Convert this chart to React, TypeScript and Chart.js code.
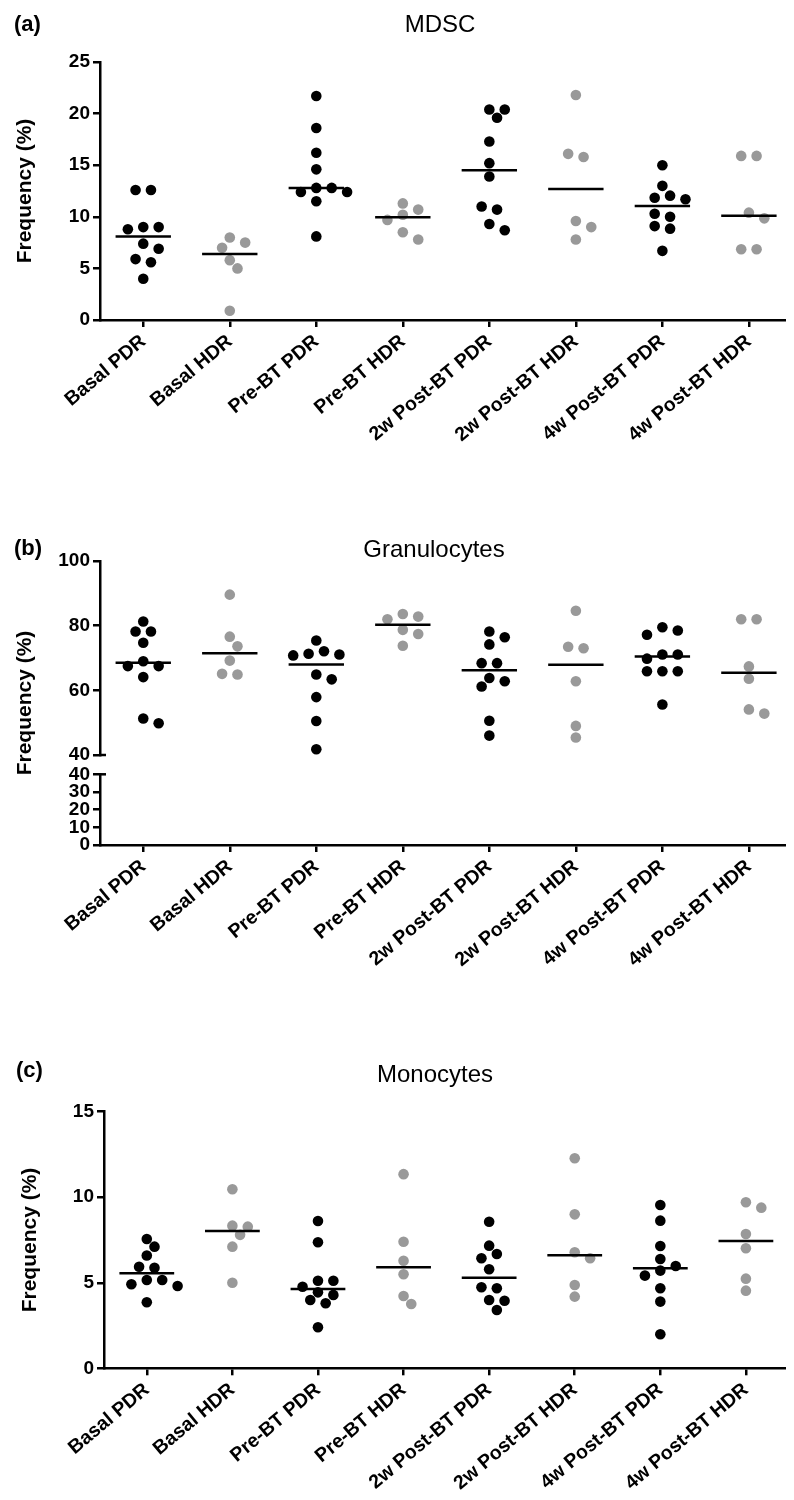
import React, { useEffect, useRef } from 'react';
import { Chart, registerables } from 'chart.js';

Chart.register(...registerables);

// ---------------- data ----------------
const categories = [
  'Basal PDR',
  'Basal HDR',
  'Pre-BT PDR',
  'Pre-BT HDR',
  '2w Post-BT PDR',
  '2w Post-BT HDR',
  '4w Post-BT PDR',
  '4w Post-BT HDR',
];

const yAxisTitle = 'Frequency (%)';

// (a) MDSC
const mdscValues: number[][] = [
  [12.6, 12.6, 9.0, 9.0, 8.8, 7.4, 6.9, 5.9, 5.6, 4.0],
  [8.0, 7.5, 7.0, 5.8, 5.0, 0.9],
  [21.7, 18.6, 16.2, 14.6, 12.8, 12.8, 12.4, 12.4, 11.5, 8.1],
  [11.3, 10.7, 10.2, 9.7, 8.5, 7.8],
  [20.4, 20.4, 19.6, 17.3, 15.2, 13.9, 11.0, 10.7, 9.3, 8.7],
  [21.8, 16.1, 15.8, 9.6, 9.0, 7.8],
  [15.0, 13.0, 12.05, 11.85, 11.7, 10.3, 10.0, 9.1, 8.85, 6.7],
  [15.9, 15.9, 10.4, 9.85, 6.85, 6.85],
];
const mdscMedians = [8.1, 6.4, 12.8, 9.95, 14.5, 12.7, 11.05, 10.1];
const mdscYTicks = [0, 5, 10, 15, 20, 25];

// (b) Granulocytes
const granValues: number[][] = [
  [81.3, 78.2, 78.2, 74.7, 69.0, 67.5, 67.5, 64.1, 51.3, 49.8],
  [89.6, 76.6, 73.6, 69.2, 65.1, 64.9],
  [75.4, 72.1, 71.3, 71.1, 70.8, 64.9, 63.4, 57.9, 50.5, 41.8],
  [83.6, 82.8, 82.0, 78.7, 77.4, 73.8],
  [78.2, 76.4, 74.2, 68.4, 68.4, 63.8, 62.8, 61.2, 50.6, 46.0],
  [84.6, 73.5, 73.0, 62.8, 49.0, 45.4],
  [79.5, 78.5, 77.2, 71.1, 71.1, 69.8, 65.9, 65.9, 65.9, 55.6],
  [82.0, 82.0, 67.4, 63.6, 54.1, 52.8],
];
const granMedians = [68.5, 71.5, 68.0, 80.3, 66.2, 67.9, 70.5, 65.4];
const granUpperTicks = [40, 60, 80, 100];
const granLowerTicks = [0, 10, 20, 30, 40];

// (c) Monocytes
const monoValues: number[][] = [
  [7.56, 7.11, 6.59, 5.94, 5.88, 5.16, 5.16, 4.91, 4.81, 3.86],
  [10.47, 8.34, 8.28, 7.8, 7.11, 5.0],
  [8.61, 7.37, 5.12, 5.12, 4.77, 4.44, 4.29, 3.99, 3.8, 2.4],
  [11.35, 7.4, 6.29, 5.5, 4.23, 3.76],
  [8.57, 7.17, 6.68, 6.43, 5.79, 4.74, 4.68, 3.99, 3.95, 3.41],
  [12.28, 9.0, 6.78, 6.43, 4.87, 4.19],
  [9.55, 8.63, 7.15, 6.39, 5.98, 5.71, 5.42, 4.68, 3.9, 1.99],
  [9.71, 9.39, 7.85, 7.02, 5.24, 4.54],
];
const monoMedians = [5.56, 8.03, 4.64, 5.9, 5.3, 6.61, 5.85, 7.44];
const monoYTicks = [0, 5, 10, 15];

// ---------------- styles ----------------
const FONT = "'Liberation Sans', Arial, Helvetica, sans-serif";
const BLACK = '#000000';
const GRAY = '#999999';
const groupColor = (i: number) => (i % 2 === 0 ? BLACK : GRAY);
const MEDIAN_HALF = 0.32; // half width of median bar, in category units
const POINT_R = 5.3;
const SWARM_STEP = 7.7; // px
const SWARM_MIN_DIST = 10.8; // px

type Segment = {
  id: string;
  min?: number;
  max?: number;
  ticks?: number[];
  size: number; // relative stack weight
  gap?: boolean;
};

type PanelCfg = {
  key: string;
  letter: string;
  title: string;
  values: number[][];
  medians: number[];
  segments: Segment[];
  top: number;
  height: number;
  chartTop: number;
  xAxisHeight: number;
  titleWidth: number;
  titlePad: number;
  yAxisWidth: number;
  xMax: number;
  letterX: number;
  letterY: number;
  titleX: number;
  titleY: number;
  breaks?: { scaleId: string; value: number }[];
};

const panels: PanelCfg[] = [
  {
    key: 'a',
    letter: '(a)',
    title: 'MDSC',
    values: mdscValues,
    medians: mdscMedians,
    segments: [{ id: 'y', min: 0, max: 25, ticks: mdscYTicks, size: 1 }],
    top: 0,
    height: 490,
    chartTop: 62,
    xAxisHeight: 170,
    titleWidth: 30,
    titlePad: 12.4,
    yAxisWidth: 70,
    xMax: 7.46,
    letterX: 14,
    letterY: 30.5,
    titleX: 440,
    titleY: 31.7,
  },
  {
    key: 'b',
    letter: '(b)',
    title: 'Granulocytes',
    values: granValues,
    medians: granMedians,
    segments: [
      { id: 'y', min: 40, max: 100, ticks: granUpperTicks, size: 194 },
      { id: 'yGap', size: 19.3, gap: true },
      { id: 'y2', min: 0, max: 40, ticks: granLowerTicks, size: 70.7 },
    ],
    top: 490,
    height: 520,
    chartTop: 71,
    xAxisHeight: 165,
    titleWidth: 30,
    titlePad: 12.4,
    yAxisWidth: 70,
    xMax: 7.46,
    letterX: 14,
    letterY: 65.4,
    titleX: 434,
    titleY: 66.7,
    breaks: [
      { scaleId: 'y', value: 40 },
      { scaleId: 'y2', value: 40 },
    ],
  },
  {
    key: 'c',
    letter: '(c)',
    title: 'Monocytes',
    values: monoValues,
    medians: monoMedians,
    segments: [{ id: 'y', min: 0, max: 15, ticks: monoYTicks, size: 1 }],
    top: 1010,
    height: 490,
    chartTop: 101.7,
    xAxisHeight: 131.7,
    titleWidth: 34,
    titlePad: 17.4,
    yAxisWidth: 70,
    xMax: 7.5,
    letterX: 16,
    letterY: 67,
    titleX: 435,
    titleY: 71.7,
  },
];

// ---------------- helpers ----------------
function swarm(pys: number[], step: number, minDist: number): number[] {
  const order = pys.map((_, i) => i).sort((a, b) => pys[a] - pys[b]);
  const out = new Array(pys.length).fill(0);
  const placed: number[] = [];
  const ok = (x: number, y: number, skip: number[]) =>
    placed.every((j) => skip.includes(j) || Math.hypot(out[j] - x, pys[j] - y) >= minDist);
  for (const i of order) {
    for (let k = 0; k < 60; k++) {
      const cand = k === 0 ? 0 : (k % 2 === 1 ? 1 : -1) * Math.ceil(k / 2) * step;
      if (ok(cand, pys[i], [])) {
        out[i] = cand;
        placed.push(i);
        break;
      }
    }
  }
  // make lone pairs symmetric around the centre
  for (const i of placed) {
    if (out[i] !== 0) continue;
    const mates = placed.filter((j) => j !== i && Math.abs(pys[j] - pys[i]) < 4);
    if (mates.length !== 1) continue;
    const j = mates[0];
    if (Math.abs(Math.abs(out[j]) - 2 * step) > 0.01) continue;
    const s = Math.sign(out[j]);
    const oi = out[i];
    const oj = out[j];
    out[i] = -s * step;
    out[j] = s * step;
    const good = ok(out[i], pys[i], [i, j]) && ok(out[j], pys[j], [i, j]);
    if (!good) {
      out[i] = oi;
      out[j] = oj;
    }
  }
  return out;
}

const panelTextPlugin = {
  id: 'panelText',
  afterDraw(chart: any, _args: any, opts: any) {
    const ctx = chart.ctx as CanvasRenderingContext2D;
    ctx.save();
    ctx.fillStyle = BLACK;
    ctx.textBaseline = 'alphabetic';
    ctx.font = `bold 22px ${FONT}`;
    ctx.textAlign = 'left';
    ctx.fillText(opts.letter, opts.letterX, opts.letterY);
    ctx.font = `24px ${FONT}`;
    ctx.textAlign = 'center';
    ctx.fillText(opts.title, opts.titleX, opts.titleY);
    if (opts.breaks) {
      ctx.strokeStyle = BLACK;
      ctx.lineWidth = 2.5;
      const left = chart.chartArea.left;
      for (const b of opts.breaks) {
        const sc = chart.scales[b.scaleId];
        if (!sc) continue;
        const y = sc.getPixelForValue(b.value);
        ctx.beginPath();
        ctx.moveTo(left - 1, y);
        ctx.lineTo(left + 6, y);
        ctx.stroke();
      }
    }
    ctx.restore();
  },
};

function buildConfig(p: PanelCfg): any {
  const yMain = p.segments[0].id;
  const stacked = p.segments.length > 1;
  const yTickFont = { family: FONT, size: 19, weight: 'bold' as const };
  const xTickFont = { family: FONT, size: 19.5, weight: 'bold' as const };
  const datasets: any[] = [];
  p.medians.forEach((m, i) => {
    datasets.push({
      label: 'Median ' + categories[i],
      data: [
        { x: i - MEDIAN_HALF, y: m },
        { x: i + MEDIAN_HALF, y: m },
      ],
      showLine: true,
      borderColor: BLACK,
      borderWidth: 2.5,
      pointRadius: 0,
      xAxisID: 'x',
      yAxisID: yMain,
      order: 0,
      clip: false,
    });
  });
  p.values.forEach((vals, i) => {
    datasets.push({
      label: categories[i],
      data: vals.map((v) => ({ x: i, y: v })),
      backgroundColor: groupColor(i),
      borderColor: groupColor(i),
      borderWidth: 0,
      pointRadius: POINT_R,
      pointHoverRadius: POINT_R,
      xAxisID: 'x',
      yAxisID: yMain,
      order: 1,
      clip: false,
    });
  });

  const scales: any = {
    x: {
      type: 'linear',
      position: 'bottom',
      min: -0.5,
      max: p.xMax,
      afterBuildTicks: (sc: any) => {
        sc.ticks = categories.map((_, i) => ({ value: i }));
      },
      afterFit: (sc: any) => {
        sc.height = p.xAxisHeight;
      },
      ticks: {
        autoSkip: false,
        maxRotation: 40,
        minRotation: 40,
        color: BLACK,
        font: xTickFont,
        padding: 3,
        callback: (_v: any, i: number) => categories[i],
      },
      grid: { drawOnChartArea: false, drawTicks: true, tickLength: 7, lineWidth: 2.5, color: BLACK },
      border: { display: true, color: BLACK, width: 2.5 },
    },
    yTitle: {
      type: 'linear',
      position: 'left',
      weight: 10,
      display: true,
      ticks: { display: false },
      grid: { display: false },
      border: { display: false },
      title: {
        display: true,
        text: yAxisTitle,
        color: BLACK,
        font: { family: FONT, size: 21, weight: 'bold' },
        padding: { top: p.titlePad, bottom: 0 },
      },
      afterFit: (sc: any) => {
        sc.width = p.titleWidth;
      },
    },
  };

  const n = p.segments.length;
  p.segments.forEach((s, k) => {
    const common: any = {
      type: 'linear',
      position: 'left',
      weight: n - k,
    };
    if (stacked) {
      common.stack = 'ybreak';
      common.stackWeight = s.size;
    }
    if (s.gap) {
      scales[s.id] = {
        ...common,
        display: false,
        afterFit: (sc: any) => {
          sc.width = 0;
        },
      };
      return;
    }
    scales[s.id] = {
      ...common,
      min: s.min,
      max: s.max,
      afterBuildTicks: (sc: any) => {
        sc.ticks = (s.ticks || []).map((v) => ({ value: v }));
      },
      afterFit: (sc: any) => {
        sc.width = p.yAxisWidth;
      },
      ticks: { color: BLACK, font: yTickFont, padding: 3, autoSkip: false },
      grid: { drawOnChartArea: false, drawTicks: true, tickLength: 7, lineWidth: 2.5, color: BLACK },
      border: { display: true, color: BLACK, width: 2.5 },
    };
  });

  return {
    type: 'scatter',
    data: { datasets },
    plugins: [panelTextPlugin],
    options: {
      animation: false,
      responsive: false,
      maintainAspectRatio: false,
      devicePixelRatio: 1,
      events: [],
      layout: { padding: { top: p.chartTop, left: 0, right: 0, bottom: 0 } },
      plugins: {
        legend: { display: false },
        tooltip: { enabled: false },
        title: { display: false },
        panelText: {
          letter: p.letter,
          title: p.title,
          letterX: p.letterX,
          letterY: p.letterY,
          titleX: p.titleX,
          titleY: p.titleY,
          breaks: p.breaks,
        },
      },
      scales,
    },
  };
}

function Panel({ cfg }: { cfg: PanelCfg }) {
  const ref = useRef<HTMLCanvasElement | null>(null);
  useEffect(() => {
    if (!ref.current) return;
    const chart = new Chart(ref.current, buildConfig(cfg));
    const xs: any = chart.scales.x;
    const ys: any = chart.scales[cfg.segments[0].id];
    const unit = xs.getPixelForValue(1) - xs.getPixelForValue(0);
    cfg.values.forEach((vals, i) => {
      const pys = vals.map((v) => ys.getPixelForValue(v));
      const offs = swarm(pys, SWARM_STEP, SWARM_MIN_DIST);
      (chart.data.datasets[cfg.medians.length + i] as any).data = vals.map((v, k) => ({
        x: i + offs[k] / unit,
        y: v,
      }));
    });
    chart.update();
    return () => chart.destroy();
  }, [cfg]);
  return (
    <canvas
      ref={ref}
      width={794}
      height={cfg.height}
      style={{ position: 'absolute', left: 0, top: cfg.top, width: 794, height: cfg.height, display: 'block' }}
    />
  );
}

export default function App() {
  return (
    <div
      style={{
        position: 'relative',
        width: 794,
        height: 1500,
        margin: -8,
        overflow: 'hidden',
        background: '#ffffff',
      }}
    >
      {panels.map((p) => (
        <Panel key={p.key} cfg={p} />
      ))}
    </div>
  );
}
